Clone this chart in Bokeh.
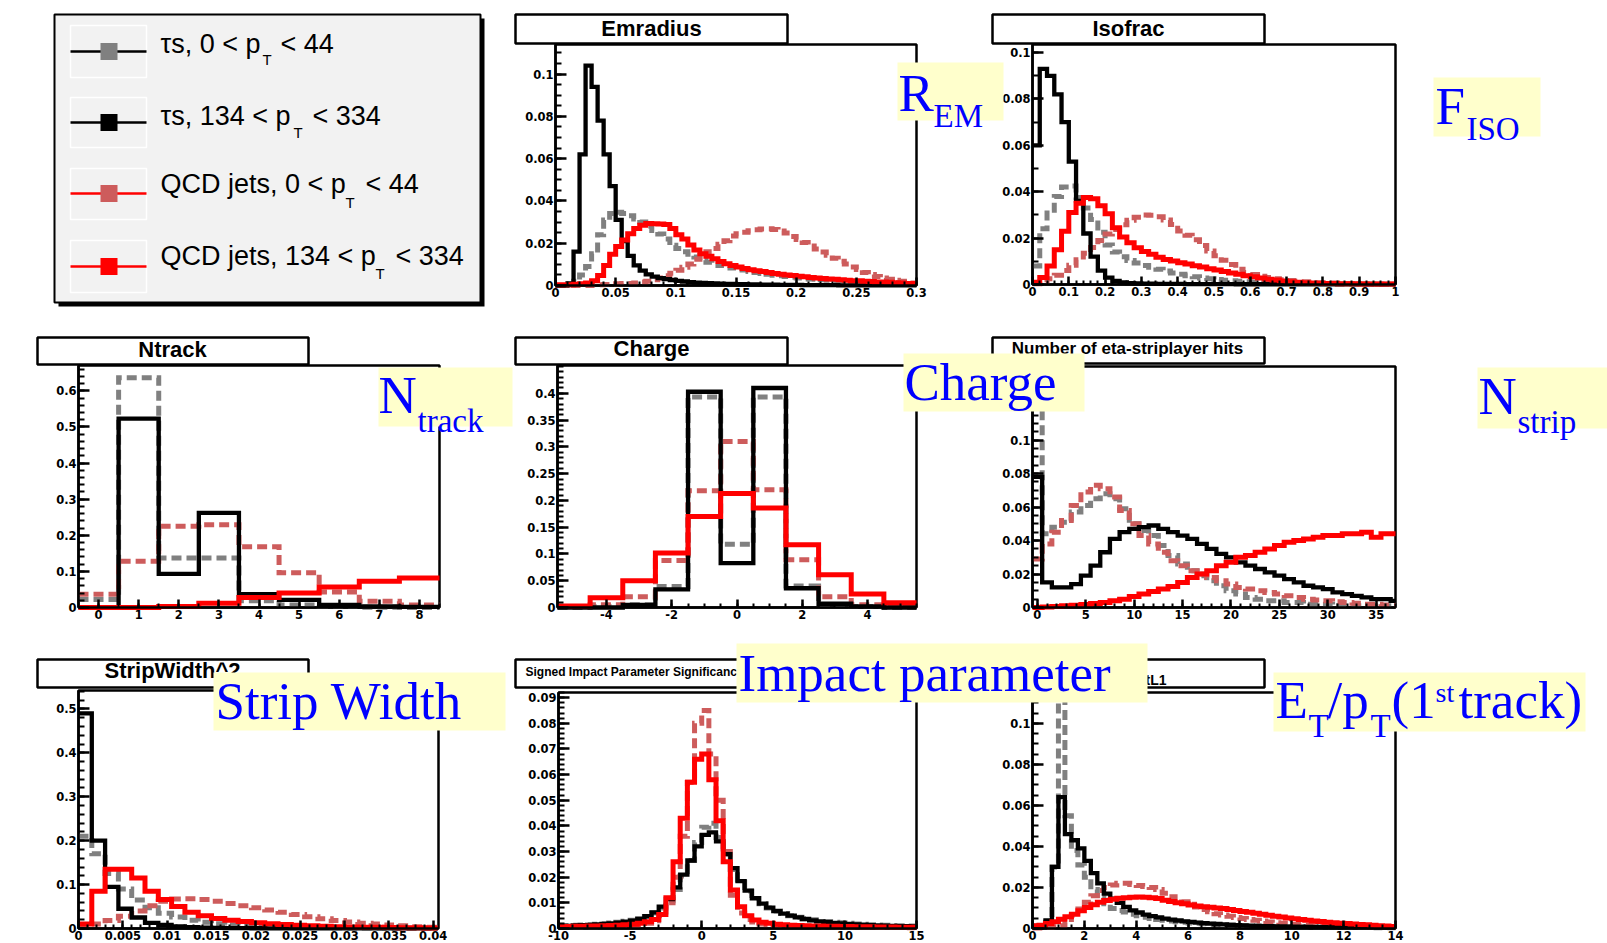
import numpy as np
from bokeh.plotting import figure
from bokeh.models import Range1d, LinearAxis, FixedTicker, BoxAnnotation, Label
from bokeh.core.properties import value
from bokeh.embed import file_html
from bokeh.resources import INLINE

# ======================= DATA =======================
legend_main = ["τs, 0 < p", "τs, 134 < p", "QCD jets, 0 < p", "QCD jets, 134 < p"]
legend_sub = ["T", "T", "T", "T"]
legend_tail = ["< 44", "< 334", "< 44", "< 334"]

# Emradius (bins of 0.005 from 0)
emr_tau_lo = [0, 0, 0.0005, 0.002, 0.005, 0.009, 0.015, 0.024, 0.031, 0.034,
              0.0346, 0.034, 0.033, 0.0315, 0.03, 0.028, 0.026, 0.0244, 0.022, 0.019,
              0.0175, 0.016, 0.0148, 0.0135, 0.012, 0.011, 0.0102, 0.0095, 0.0088, 0.0083,
              0.0079, 0.0073, 0.0066, 0.0062, 0.0057, 0.0053, 0.0049, 0.0046, 0.0042, 0.0039,
              0.0036, 0.0033, 0.0031, 0.0029, 0.0027, 0.0025, 0.0023, 0.0021, 0.0019, 0.0017,
              0.0016, 0.0014, 0.0013, 0.0012, 0.0011, 0.001, 0.0009, 0.0008, 0.0006, 0.0005]
emr_tau_hi = [0, 0, 0.001, 0.016, 0.062, 0.104, 0.094, 0.078, 0.062, 0.047,
              0.031, 0.021, 0.014, 0.0095, 0.007, 0.0053, 0.0042, 0.0035, 0.003, 0.0026,
              0.0022, 0.0019, 0.0016, 0.0014, 0.0012, 0.0011, 0.001, 0.0009, 0.0008, 0.0007,
              0.0006, 0.0006, 0.0005, 0.0005, 0.0004, 0.0004, 0.0004, 0.0003, 0.0003, 0.0003,
              0.0003, 0.0002, 0.0002, 0.0002, 0.0002, 0.0002, 0.0002, 0.0001, 0.0001, 0.0001,
              0.0001, 0.0001, 0.0001, 0.0001, 0.0001, 0.0001, 0.0001, 0.0001, 0.0001, 0.0001]
emr_qcd_lo = [0, 0, 0, 0, 0, 0, 0.0002, 0.0003, 0.0005, 0.0007,
              0.0008, 0.0009, 0.001, 0.0012, 0.0016, 0.002, 0.0027, 0.0036, 0.0046, 0.0058,
              0.0072, 0.0086, 0.0102, 0.0124, 0.0142, 0.016, 0.0175, 0.0195, 0.0212, 0.0234,
              0.0245, 0.0252, 0.0259, 0.0264, 0.0267, 0.0268, 0.0265, 0.0258, 0.0248, 0.0232,
              0.0218, 0.0203, 0.0187, 0.0173, 0.0158, 0.0143, 0.0129, 0.0115, 0.0102, 0.0088,
              0.0076, 0.0062, 0.0052, 0.0043, 0.0035, 0.0029, 0.0025, 0.002, 0.0016, 0.0012]
emr_qcd_hi = [0.0003, 0.0003, 0.0004, 0.0006, 0.0008, 0.0012, 0.0022, 0.0047, 0.0095, 0.0148,
              0.0185, 0.0215, 0.0245, 0.027, 0.0285, 0.0293, 0.0292, 0.0291, 0.0288, 0.027,
              0.024, 0.022, 0.0192, 0.0168, 0.015, 0.0138, 0.0126, 0.0113, 0.0103, 0.0095,
              0.0088, 0.0081, 0.0075, 0.007, 0.0066, 0.0061, 0.0057, 0.0053, 0.005, 0.0047,
              0.0044, 0.0041, 0.0038, 0.0036, 0.0033, 0.0031, 0.0029, 0.0027, 0.0025, 0.0023,
              0.0022, 0.002, 0.0019, 0.0017, 0.0016, 0.0015, 0.0013, 0.0012, 0.001, 0.0009]
emr_xticks = [0, 0.05, 0.1, 0.15, 0.2, 0.25, 0.3]
emr_xlabels = ["0", "0.05", "0.1", "0.15", "0.2", "0.25", "0.3"]
emr_yticks = [0, 0.02, 0.04, 0.06, 0.08, 0.1]
emr_ylabels = ["0", "0.02", "0.04", "0.06", "0.08", "0.1"]

# Isofrac (bins of 0.02 from 0)
iso_tau_lo = [0.008, 0.024, 0.032, 0.038, 0.042, 0.0425, 0.0375, 0.033, 0.028, 0.0225,
              0.017, 0.014, 0.012, 0.0103, 0.0093, 0.0082, 0.0074, 0.0066, 0.0058, 0.005,
              0.0044, 0.0038, 0.0033, 0.0028, 0.0025, 0.0022, 0.0018, 0.0016, 0.0014, 0.0012,
              0.0011, 0.001, 0.0009, 0.0008, 0.0007, 0.0006, 0.0005, 0.0004, 0.0004, 0.0003,
              0.0003, 0.0003, 0.0002, 0.0002, 0.0002, 0.0002, 0.0002, 0.0001, 0.0001, 0.0001]
iso_tau_hi = [0.06, 0.093, 0.09, 0.082, 0.07, 0.053, 0.036, 0.022, 0.012, 0.006,
              0.003, 0.0015, 0.0009, 0.0006, 0.0005, 0.0004, 0.0004, 0.0003, 0.0003, 0.0003,
              0.0003, 0.0002, 0.0002, 0.0002, 0.0002, 0.0002, 0.0002, 0.0002, 0.0001, 0.0001,
              0.0001, 0.0001, 0.0001, 0.0001, 0.0001, 0.0001, 0.0001, 0.0001, 0.0001, 0.0001,
              0.0001, 0.0001, 0.0001, 0.0001, 0.0001, 0.0001, 0.0001, 0.0001, 0.0001, 0.0001]
iso_qcd_lo = [0.0003, 0.001, 0.0025, 0.004, 0.006, 0.0083, 0.0107, 0.0135, 0.016, 0.019,
              0.0218, 0.0237, 0.0258, 0.0277, 0.029, 0.03, 0.0299, 0.0292, 0.0278, 0.0259,
              0.0231, 0.0212, 0.0193, 0.0168, 0.0145, 0.0124, 0.0105, 0.0086, 0.0066, 0.0052,
              0.0043, 0.0036, 0.003, 0.0025, 0.002, 0.0017, 0.0014, 0.0012, 0.001, 0.0008,
              0.0007, 0.0006, 0.0005, 0.0004, 0.0004, 0.0003, 0.0003, 0.0002, 0.0002, 0.0002]
iso_qcd_hi = [0.001, 0.003, 0.008, 0.015, 0.023, 0.031, 0.035, 0.0375, 0.037, 0.034,
              0.0305, 0.0245, 0.0205, 0.018, 0.0158, 0.0142, 0.013, 0.0118, 0.0108, 0.0101,
              0.0094, 0.0088, 0.0081, 0.0075, 0.0068, 0.0062, 0.0056, 0.005, 0.0044, 0.0038,
              0.0033, 0.0028, 0.0023, 0.0019, 0.0015, 0.0012, 0.001, 0.0008, 0.0006, 0.0005,
              0.0004, 0.0004, 0.0003, 0.0003, 0.0003, 0.0002, 0.0002, 0.0002, 0.0002, 0.0002]
iso_xticks = [0, 0.1, 0.2, 0.3, 0.4, 0.5, 0.6, 0.7, 0.8, 0.9, 1]
iso_xlabels = ["0", "0.1", "0.2", "0.3", "0.4", "0.5", "0.6", "0.7", "0.8", "0.9", "1"]
iso_yticks = [0, 0.02, 0.04, 0.06, 0.08, 0.1]
iso_ylabels = ["0", "0.02", "0.04", "0.06", "0.08", "0.1"]

# Ntrack (integer bins 0..8)
ntr_tau_lo = [0.022, 0.636, 0.137, 0.137, 0.019, 0.007, 0.003, 0.001, 0.0]
ntr_tau_hi = [0.0, 0.523, 0.093, 0.262, 0.037, 0.021, 0.007, 0.003, 0.002]
ntr_qcd_lo = [0.037, 0.128, 0.225, 0.229, 0.168, 0.096, 0.043, 0.017, 0.007]
ntr_qcd_hi = [0.0, 0.0, 0.003, 0.012, 0.028, 0.04, 0.057, 0.073, 0.082]
ntr_xticks = [0, 1, 2, 3, 4, 5, 6, 7, 8]
ntr_xlabels = ["0", "1", "2", "3", "4", "5", "6", "7", "8"]
ntr_yticks = [0, 0.1, 0.2, 0.3, 0.4, 0.5, 0.6]
ntr_ylabels = ["0", "0.1", "0.2", "0.3", "0.4", "0.5", "0.6"]

# Charge (integer bins -5..5)
chg_tau_lo = [0.0, 0.002, 0.005, 0.039, 0.393, 0.118, 0.393, 0.04, 0.005, 0.002, 0.0]
chg_tau_hi = [0.0, 0.0, 0.005, 0.034, 0.403, 0.083, 0.41, 0.036, 0.007, 0.002, 0.0]
chg_qcd_lo = [0.002, 0.005, 0.02, 0.088, 0.218, 0.31, 0.22, 0.089, 0.02, 0.005, 0.002]
chg_qcd_hi = [0.003, 0.018, 0.05, 0.102, 0.17, 0.213, 0.186, 0.117, 0.061, 0.025, 0.009]
chg_xticks = [-4, -2, 0, 2, 4]
chg_xlabels = ["-4", "-2", "0", "2", "4"]
chg_yticks = [0, 0.05, 0.1, 0.15, 0.2, 0.25, 0.3, 0.35, 0.4]
chg_ylabels = ["0", "0.05", "0.1", "0.15", "0.2", "0.25", "0.3", "0.35", "0.4"]

# Number of eta-striplayer hits (integer bins 0..37)
nst_tau_lo = [0.13, 0.044, 0.048, 0.051, 0.057, 0.061, 0.065, 0.068, 0.065, 0.059,
              0.05, 0.046, 0.043, 0.037, 0.031, 0.026, 0.022, 0.019, 0.016, 0.013,
              0.01, 0.008, 0.006, 0.005, 0.004, 0.004, 0.003, 0.003, 0.002, 0.002,
              0.002, 0.001, 0.001, 0.001, 0.001, 0.001, 0.001, 0.001]
nst_tau_hi = [0.078, 0.015, 0.012, 0.012, 0.014, 0.019, 0.025, 0.033, 0.041, 0.045,
              0.047, 0.048, 0.049, 0.047, 0.045, 0.043, 0.041, 0.038, 0.035, 0.032,
              0.03, 0.027, 0.025, 0.023, 0.021, 0.019, 0.017, 0.015, 0.013, 0.012,
              0.011, 0.009, 0.008, 0.007, 0.006, 0.005, 0.005, 0.004]
nst_qcd_lo = [0.029, 0.038, 0.045, 0.052, 0.061, 0.069, 0.073, 0.071, 0.066, 0.058,
              0.05, 0.043, 0.038, 0.033, 0.028, 0.025, 0.022, 0.02, 0.018, 0.016,
              0.014, 0.012, 0.011, 0.01, 0.009, 0.008, 0.007, 0.006, 0.005, 0.0045,
              0.004, 0.0035, 0.003, 0.0025, 0.002, 0.002, 0.0015, 0.0015]
nst_qcd_hi = [0.0, 0.0003, 0.0006, 0.001, 0.0013, 0.0018, 0.0024, 0.003, 0.004, 0.005,
              0.0065, 0.008, 0.0095, 0.011, 0.0125, 0.015, 0.018, 0.02, 0.022, 0.025,
              0.027, 0.03, 0.031, 0.033, 0.035, 0.037, 0.039, 0.04, 0.041, 0.042,
              0.043, 0.043, 0.044, 0.044, 0.045, 0.042, 0.044, 0.044]
nst_xticks = [0, 5, 10, 15, 20, 25, 30, 35]
nst_xlabels = ["0", "5", "10", "15", "20", "25", "30", "35"]
nst_yticks = [0, 0.02, 0.04, 0.06, 0.08, 0.1]
nst_ylabels = ["0", "0.02", "0.04", "0.06", "0.08", "0.1"]

# StripWidth^2 (bins of 0.0015 from 0)
sw_tau_lo = [0.21, 0.17, 0.125, 0.09, 0.065, 0.047, 0.035, 0.026, 0.019, 0.014,
             0.011, 0.0085, 0.0068, 0.0055, 0.0045, 0.0037, 0.003, 0.0025, 0.002, 0.0017,
             0.0014, 0.0012, 0.001, 0.0008, 0.0007, 0.0006, 0.0005]
sw_tau_hi = [0.49, 0.2, 0.095, 0.045, 0.025, 0.013, 0.008, 0.005, 0.003, 0.002,
             0.0015, 0.001, 0.0008, 0.0006, 0.0005, 0.0004, 0.0003, 0.0003, 0.0002, 0.0002,
             0.0002, 0.0001, 0.0001, 0.0001, 0.0001, 0.0001, 0.0001]
sw_qcd_lo = [0.004, 0.01, 0.018, 0.028, 0.04, 0.052, 0.062, 0.067, 0.068, 0.066,
             0.062, 0.057, 0.052, 0.047, 0.042, 0.037, 0.032, 0.027, 0.022, 0.018,
             0.015, 0.012, 0.01, 0.008, 0.006, 0.004, 0.003]
sw_qcd_hi = [0.01, 0.085, 0.135, 0.135, 0.115, 0.085, 0.066, 0.05, 0.037, 0.029,
             0.023, 0.019, 0.016, 0.013, 0.011, 0.009, 0.0075, 0.0062, 0.005, 0.0042,
             0.0036, 0.003, 0.0026, 0.0022, 0.0018, 0.0015, 0.0012]
sw_xticks = [0, 0.005, 0.01, 0.015, 0.02, 0.025, 0.03, 0.035, 0.04]
sw_xlabels = ["0", "0.005", "0.01", "0.015", "0.02", "0.025", "0.03", "0.035", "0.04"]
sw_yticks = [0, 0.1, 0.2, 0.3, 0.4, 0.5]
sw_ylabels = ["0", "0.1", "0.2", "0.3", "0.4", "0.5"]

# Signed impact parameter significance (bins of 0.5 from -10)
imp_tau_lo = [0.0012, 0.0012, 0.0013, 0.0014, 0.0015, 0.0017, 0.0019, 0.0021, 0.0024, 0.0028,
              0.0032, 0.0038, 0.0047, 0.006, 0.008, 0.0108, 0.0152, 0.0205, 0.0265, 0.0335,
              0.0395, 0.041, 0.0355, 0.029, 0.023, 0.018, 0.0145, 0.0117, 0.0096, 0.008,
              0.0068, 0.0058, 0.005, 0.0044, 0.0038, 0.0034, 0.003, 0.0027, 0.0024, 0.0022,
              0.002, 0.0018, 0.0017, 0.0015, 0.0014, 0.0013, 0.0012, 0.0011, 0.001, 0.001]
imp_tau_hi = [0.001, 0.001, 0.0012, 0.0013, 0.0014, 0.0016, 0.0018, 0.002, 0.0023, 0.0027,
              0.0031, 0.0038, 0.0048, 0.0063, 0.0085, 0.0115, 0.016, 0.021, 0.0265, 0.032,
              0.0365, 0.0375, 0.034, 0.029, 0.0235, 0.0185, 0.0148, 0.0118, 0.0097, 0.0081,
              0.0068, 0.0058, 0.005, 0.0043, 0.0037, 0.0032, 0.0028, 0.0025, 0.0022, 0.002,
              0.0018, 0.0016, 0.0015, 0.0013, 0.0012, 0.0011, 0.001, 0.0009, 0.0009, 0.0008]
imp_qcd_lo = [0.0005, 0.0005, 0.0006, 0.0006, 0.0007, 0.0007, 0.0008, 0.0008, 0.0009, 0.001,
              0.0012, 0.0015, 0.002, 0.003, 0.005, 0.01, 0.02, 0.036, 0.057, 0.08,
              0.085, 0.068, 0.05, 0.03, 0.013, 0.006, 0.0035, 0.0025, 0.0018, 0.0015,
              0.0013, 0.0012, 0.0011, 0.001, 0.0009, 0.0008, 0.0008, 0.0007, 0.0007, 0.0006,
              0.0006, 0.0006, 0.0005, 0.0005, 0.0005, 0.0004, 0.0004, 0.0004, 0.0004, 0.0003]
imp_qcd_hi = [0.0008, 0.0008, 0.0009, 0.0009, 0.001, 0.001, 0.0011, 0.0012, 0.0013, 0.0015,
              0.0017, 0.002, 0.0026, 0.0035, 0.0055, 0.012, 0.026, 0.043, 0.057, 0.066,
              0.068, 0.058, 0.042, 0.026, 0.015, 0.0085, 0.005, 0.0033, 0.0024, 0.002,
              0.0017, 0.0015, 0.0013, 0.0012, 0.0011, 0.001, 0.001, 0.0009, 0.0009, 0.0008,
              0.0008, 0.0007, 0.0007, 0.0007, 0.0006, 0.0006, 0.0006, 0.0005, 0.0005, 0.0005]
imp_xticks = [-10, -5, 0, 5, 10, 15]
imp_xlabels = ["-10", "-5", "0", "5", "10", "15"]
imp_yticks = [0, 0.01, 0.02, 0.03, 0.04, 0.05, 0.06, 0.07, 0.08, 0.09]
imp_ylabels = ["0", "0.01", "0.02", "0.03", "0.04", "0.05", "0.06", "0.07", "0.08", "0.09"]

# ET/pT of first track (bins of 0.25 from 0)
etp_tau_lo = [0.0005, 0.001, 0.003, 0.03, 0.13, 0.055, 0.038, 0.031, 0.025, 0.019,
              0.015, 0.012, 0.0098, 0.0088, 0.008, 0.007, 0.0062, 0.0055, 0.0049, 0.0044,
              0.004, 0.0036, 0.0033, 0.003, 0.0027, 0.0025, 0.0023, 0.0021, 0.0019, 0.0018,
              0.0017, 0.0015, 0.0014, 0.0013, 0.0012, 0.0011, 0.0011, 0.001, 0.001, 0.0009,
              0.0009, 0.0008, 0.0008, 0.0007, 0.0007, 0.0007, 0.0006, 0.0006, 0.0006, 0.0005,
              0.0005, 0.0005, 0.0005, 0.0004, 0.0004, 0.0004]
etp_tau_hi = [0.0013, 0.0015, 0.004, 0.03, 0.064, 0.046, 0.043, 0.039, 0.033, 0.027,
              0.022, 0.017, 0.0145, 0.0125, 0.0105, 0.0088, 0.0078, 0.0068, 0.006, 0.0054,
              0.0048, 0.0043, 0.0039, 0.0035, 0.0032, 0.0029, 0.0026, 0.0024, 0.0022, 0.002,
              0.0018, 0.0016, 0.0015, 0.0014, 0.0013, 0.0012, 0.0011, 0.001, 0.001, 0.0009,
              0.0009, 0.0008, 0.0008, 0.0007, 0.0007, 0.0007, 0.0006, 0.0006, 0.0006, 0.0005,
              0.0005, 0.0005, 0.0005, 0.0004, 0.0004, 0.0004]
etp_qcd_lo = [0.0002, 0.0003, 0.0005, 0.0008, 0.0013, 0.003, 0.0065, 0.0095, 0.0128, 0.016,
              0.0185, 0.02, 0.0212, 0.022, 0.022, 0.0215, 0.021, 0.0205, 0.02, 0.019,
              0.0172, 0.0155, 0.0142, 0.013, 0.0118, 0.0105, 0.0093, 0.0082, 0.0072, 0.0066,
              0.006, 0.0054, 0.0049, 0.0044, 0.004, 0.0036, 0.0032, 0.0028, 0.0025, 0.0022,
              0.002, 0.0018, 0.0016, 0.0015, 0.0013, 0.0012, 0.0011, 0.001, 0.0009, 0.0008,
              0.0008, 0.0007, 0.0006, 0.0006, 0.0005, 0.0005]
etp_qcd_hi = [0.0013, 0.0016, 0.0024, 0.0033, 0.0045, 0.0057, 0.0069, 0.0086, 0.0102, 0.0116,
              0.0128, 0.0137, 0.0143, 0.0147, 0.015, 0.0152, 0.0153, 0.0152, 0.015, 0.0146,
              0.0138, 0.0132, 0.0126, 0.012, 0.0115, 0.011, 0.0106, 0.0103, 0.01, 0.0098,
              0.0093, 0.0088, 0.0083, 0.0079, 0.0074, 0.0069, 0.0065, 0.006, 0.0056, 0.0051,
              0.0047, 0.0044, 0.004, 0.0037, 0.0034, 0.0031, 0.0028, 0.0026, 0.0024, 0.0022,
              0.002, 0.0018, 0.0016, 0.0014, 0.0012, 0.001]
etp_xticks = [0, 2, 4, 6, 8, 10, 12, 14]
etp_xlabels = ["0", "2", "4", "6", "8", "10", "12", "14"]
etp_yticks = [0, 0.02, 0.04, 0.06, 0.08, 0.1]
etp_ylabels = ["0", "0.02", "0.04", "0.06", "0.08", "0.1"]

# ======================= LAYOUT =======================
W, H = 1607, 943
BASE = 0.345  # text baseline correction (fraction of font size)


def fx(px):
    return px


def fy(py):
    return H - py


def ty(baseline, fs):
    return fy(baseline - BASE * fs)


GRAY, PINK, BLACK, RED = "#808080", "#CD5C5C", "#000000", "#FF0000"
STYLES = [
    dict(line_color=GRAY, line_width=5, line_dash="10 5"),    # tau low pT
    dict(line_color=PINK, line_width=5, line_dash="10 5"),    # QCD low pT
    dict(line_color=BLACK, line_width=4.3),                    # tau high pT
    dict(line_color=RED, line_width=5),                        # QCD high pT
]

p = figure(width=W, height=H, x_range=Range1d(0, W), y_range=Range1d(0, H),
           x_axis_type=None, y_axis_type=None, min_border=0,
           outline_line_color=None, toolbar_location=None, output_backend="svg",
           background_fill_color="white", border_fill_color="white")

PANELS = [
    dict(name="emr", frame=(555, 916, 44, 285), xr=(0, 0.3), yr=(0, 0.114), x0=0.0, bw=0.005,
         data=(emr_tau_lo, emr_qcd_lo, emr_tau_hi, emr_qcd_hi),
         xt=emr_xticks, xl=emr_xlabels, yt=emr_yticks, yl=emr_ylabels, xm=0.01, ym=0.005),
    dict(name="iso", frame=(1032, 1395, 44, 284), xr=(0, 1), yr=(0, 0.1035), x0=0.0, bw=0.02,
         data=(iso_tau_lo, iso_qcd_lo, iso_tau_hi, iso_qcd_hi),
         xt=iso_xticks, xl=iso_xlabels, yt=iso_yticks, yl=iso_ylabels, xm=0.02, ym=0.01),
    dict(name="ntr", frame=(78, 439, 365, 607), xr=(-0.5, 8.5), yr=(0, 0.67), x0=-0.5, bw=1.0,
         data=(ntr_tau_lo, ntr_qcd_lo, ntr_tau_hi, ntr_qcd_hi),
         xt=ntr_xticks, xl=ntr_xlabels, yt=ntr_yticks, yl=ntr_ylabels, xm=0.5, ym=0.02),
    dict(name="chg", frame=(557, 916, 365, 607), xr=(-5.5, 5.5), yr=(0, 0.452), x0=-5.5, bw=1.0,
         data=(chg_tau_lo, chg_qcd_lo, chg_tau_hi, chg_qcd_hi),
         xt=chg_xticks, xl=chg_xlabels, yt=chg_yticks, yl=chg_ylabels, xm=0.5, ym=0.01),
    dict(name="nst", frame=(1032, 1395, 366, 607), xr=(-0.5, 37.0), yr=(0, 0.144), x0=-0.5, bw=1.0,
         data=(nst_tau_lo, nst_qcd_lo, nst_tau_hi, nst_qcd_hi),
         xt=nst_xticks, xl=nst_xlabels, yt=nst_yticks, yl=nst_ylabels, xm=1.0, ym=0.005),
    dict(name="sw", frame=(78, 438, 690, 928), xr=(0, 0.0406), yr=(0, 0.542), x0=0.0, bw=0.0015,
         data=(sw_tau_lo, sw_qcd_lo, sw_tau_hi, sw_qcd_hi),
         xt=sw_xticks, xl=sw_xlabels, yt=sw_yticks, yl=sw_ylabels, xm=0.001, ym=0.02),
    dict(name="imp", frame=(558, 916, 692, 928), xr=(-10, 15), yr=(0, 0.092), x0=-10.0, bw=0.5,
         data=(imp_tau_lo, imp_qcd_lo, imp_tau_hi, imp_qcd_hi),
         xt=imp_xticks, xl=imp_xlabels, yt=imp_yticks, yl=imp_ylabels, xm=1.0, ym=0.002),
    dict(name="etp", frame=(1032, 1395, 692, 928), xr=(0, 14), yr=(0, 0.115), x0=0.0, bw=0.25,
         data=(etp_tau_lo, etp_qcd_lo, etp_tau_hi, etp_qcd_hi),
         xt=etp_xticks, xl=etp_xlabels, yt=etp_yticks, yl=etp_ylabels, xm=0.5, ym=0.005),
]

AXIS_STYLE = dict(axis_line_width=2.5, axis_line_color="black",
                  major_tick_line_width=2.5, minor_tick_line_width=2,
                  major_tick_out=0, minor_tick_out=0,
                  major_label_text_font="DejaVu Sans", major_label_text_font_style="bold",
                  major_label_text_font_size="11.5px", major_label_text_color="black",
                  major_label_standoff=2)

for cfg in PANELS:
    name = cfg["name"]
    L, R, T, B = cfg["frame"]
    xr, yr = cfg["xr"], cfg["yr"]
    l, r, b, t = fx(L), fx(R), fy(B), fy(T)
    sx = (xr[1] - xr[0]) / (r - l)
    sy = (yr[1] - yr[0]) / (t - b)
    p.extra_x_ranges[name] = Range1d(xr[0] - l * sx, xr[0] + (W - l) * sx)
    p.extra_y_ranges[name] = Range1d(yr[0] - b * sy, yr[0] + (H - b) * sy)
    kw = dict(x_range_name=name, y_range_name=name)

    p.quad(left=[xr[0]], right=[xr[1]], bottom=[yr[0]], top=[yr[1]],
           fill_color="white", line_color="black", line_width=2.5, **kw)

    for vals, st in zip(cfg["data"], STYLES):
        v = np.clip(np.asarray(vals, dtype=float), yr[0], yr[1])
        edges = np.clip(cfg["x0"] + cfg["bw"] * np.arange(len(v) + 1), xr[0], xr[1])
        p.step(x=edges, y=np.append(v, v[-1]), mode="after", line_join="miter", **st, **kw)

    y_minor = [float(m) for m in np.arange(yr[0], yr[1] + 1e-12, cfg["ym"])]
    x_minor = [float(m) for m in np.arange(cfg["xt"][0], xr[1] + 1e-12, cfg["xm"])]
    yax = LinearAxis(fixed_location=xr[0], bounds=(yr[0], yr[1]),
                     ticker=FixedTicker(ticks=cfg["yt"], minor_ticks=y_minor),
                     major_label_overrides={float(a): s for a, s in zip(cfg["yt"], cfg["yl"])},
                     major_tick_in=11, minor_tick_in=6, **AXIS_STYLE, **kw)
    p.add_layout(yax, "left")
    xax = LinearAxis(fixed_location=yr[0], bounds=(xr[0], xr[1]),
                     ticker=FixedTicker(ticks=cfg["xt"], minor_ticks=x_minor),
                     major_label_overrides={float(a): s for a, s in zip(cfg["xt"], cfg["xl"])},
                     major_tick_in=8, minor_tick_in=4, **AXIS_STYLE, **kw)
    p.add_layout(xax, "below")

# ---------------- legend box ----------------
p.quad(left=[fx(58)], right=[fx(484)], top=[fy(18)], bottom=[fy(306)],
       fill_color="black", line_color=None)
p.quad(left=[fx(54)], right=[fx(480)], top=[fy(14)], bottom=[fy(302)],
       fill_color="#F2F2F2", line_color="black", line_width=2)
cell_top = [25, 97, 168, 240]
cell_bot = [77, 147, 219, 292]
row_y = [51, 122, 193, 266]
p.quad(left=[fx(70)] * 4, right=[fx(146)] * 4, top=[fy(v) for v in cell_top],
       bottom=[fy(v) for v in cell_bot], fill_color=None, line_color="white", line_width=1.5)
p.segment(x0=[fx(70)] * 4, x1=[fx(146)] * 4, y0=[fy(v) for v in row_y], y1=[fy(v) for v in row_y],
          line_color=[BLACK, BLACK, RED, RED], line_width=2.5)
p.scatter(x=[fx(108.5)] * 4, y=[fy(v) for v in row_y], marker="square", size=17,
          fill_color=[GRAY, BLACK, PINK, RED], line_color=None)
main_base = [53, 125, 193, 265]
sub_base = [64, 137, 207, 278]
sub_x = [262, 293, 345, 375]
tail_x = [280, 312, 365, 395]
p.text(x=[fx(160)] * 4, y=[ty(v, 27) for v in main_base], text=legend_main,
       text_font=value("Liberation Sans"), text_font_size="27px", text_color="black",
       text_baseline="alphabetic", text_align="left")
p.text(x=[fx(v) for v in sub_x], y=[ty(v, 15) for v in sub_base], text=legend_sub,
       text_font=value("Liberation Sans"), text_font_size="15px", text_color="black",
       text_baseline="alphabetic", text_align="left")
p.text(x=[fx(v) for v in tail_x], y=[ty(v, 27) for v in main_base], text=legend_tail,
       text_font=value("Liberation Sans"), text_font_size="27px", text_color="black",
       text_baseline="alphabetic", text_align="left")

# ---------------- panel title boxes ----------------
TITLES = [
    ("Emradius", (515, 787, 14, 43), 651, 36, 22, "center"),
    ("Isofrac", (992, 1264, 14, 43), 1128, 36, 22, "center"),
    ("Ntrack", (37, 308, 337, 364), 172, 357, 22, "center"),
    ("Charge", (515, 787, 337, 364), 651, 356, 22, "center"),
    ("Number of eta-striplayer hits", (992, 1264, 337, 363), 1127, 354, 17, "center"),
    ("StripWidth^2", (37, 308, 659, 687), 172, 678, 22, "center"),
    ("Signed Impact Parameter Significance", (515, 787, 659, 687), 525, 676, 12, "left"),
    ("EtOverPtL1", (992, 1264, 659, 687), 1128, 684, 14, "center"),
]
for txt, (l, r, t, b), tx, tb, fs, al in TITLES:
    p.add_layout(BoxAnnotation(left=fx(l), right=fx(r), top=fy(t), bottom=fy(b),
                               fill_color="white", fill_alpha=1.0, line_color="black",
                               line_alpha=1.0, line_width=2.5))
    p.add_layout(Label(x=fx(tx), y=ty(tb, fs), text=txt, text_font="Liberation Sans",
                       text_font_style="bold", text_font_size=f"{fs}px", text_color="black",
                       text_align=al, text_baseline="alphabetic"))

# ---------------- blue variable labels ----------------
LABEL_BOXES = [(897, 1003, 62, 120), (1433, 1540, 77, 136), (378, 512, 367, 426),
               (903, 1084, 353, 411), (1477, 1607, 367, 428), (213, 505, 672, 730),
               (736, 1147, 643, 702), (1273, 1585, 672, 731)]
LABEL_TEXT = [
    ("R", 898, 111, 53), ("EM", 933, 127, 33),
    ("F", 1435, 124, 53), ("ISO", 1466, 140, 33),
    ("N", 378, 413, 53), ("track", 417, 432, 33),
    ("Charge", 904, 400, 53),
    ("N", 1478, 414, 53), ("strip", 1517, 433, 33),
    ("Strip Width", 215, 719, 53),
    ("Impact parameter", 738, 691, 53),
    ("E", 1275, 718, 53), ("T", 1308, 737, 33), ("/p", 1327, 718, 53), ("T", 1370, 737, 33),
    ("(1", 1391, 718, 53), ("st", 1435, 702, 28), ("track)", 1458, 718, 53),
]
for (l, r, t, b) in LABEL_BOXES:
    p.add_layout(BoxAnnotation(left=fx(l), right=fx(r), top=fy(t), bottom=fy(b),
                               fill_color="#FFFFCC", fill_alpha=1.0, line_color=None))
for txt, tx, tb, fs in LABEL_TEXT:
    p.add_layout(Label(x=fx(tx), y=ty(tb, fs), text=txt, text_font="Liberation Serif",
                       text_font_size=f"{fs}px", text_color="#0000FF",
                       text_align="left", text_baseline="alphabetic"))

open("out.html", "w").write(file_html(p, INLINE))
